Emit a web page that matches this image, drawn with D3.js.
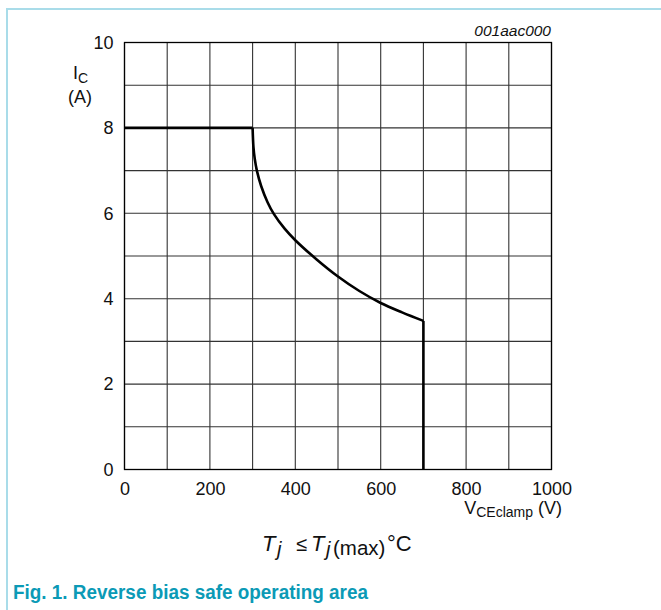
<!DOCTYPE html>
<html><head><meta charset="utf-8">
<script src="https://cdn.jsdelivr.net/npm/d3@7"></script>
<style>body{margin:0;background:#fff}svg{display:block}</style>
</head><body>
<script>
// Data
const xTicks = [0, 200, 400, 600, 800, 1000];
const yTicks = [0, 2, 4, 6, 8, 10];
const flatV = [0, 300];
const flatI = [8, 8];
const curveV = [300, 302, 305, 310, 320, 335, 350, 375, 400, 450, 500, 550, 600, 650, 700];
const curveI = [8.0, 7.55, 7.28, 7.0, 6.64, 6.26, 5.98, 5.64, 5.37, 4.92, 4.52, 4.18, 3.90, 3.68, 3.48];
const dropV = [700, 700];
const dropI = [3.48, 0];

const W = 661, H = 610;
const FONT = "'Liberation Sans', Arial, sans-serif";
const svg = d3.select("body").append("svg").attr("width", W).attr("height", H)
  .style("font-family", FONT);

// frame
svg.append("line").attr("x1", 7).attr("x2", W).attr("y1", 9).attr("y2", 9)
  .attr("stroke", "#a9dce9").attr("stroke-width", 2);
svg.append("line").attr("x1", 7).attr("x2", 7).attr("y1", 8).attr("y2", H)
  .attr("stroke", "#a9dce9").attr("stroke-width", 2);

const x = d3.scaleLinear().domain([0, 1000]).range([124.5, 551.5]);
const y = d3.scaleLinear().domain([0, 10]).range([469.5, 42.5]);

// grid
const g = svg.append("g");
g.selectAll(".vg").data(d3.range(0, 1001, 100)).enter().append("line")
  .attr("x1", d => x(d)).attr("x2", d => x(d)).attr("y1", y(0)).attr("y2", y(10))
  .attr("stroke", "#333").attr("stroke-width", 1.1);
g.selectAll(".hg").data(d3.range(0, 11, 1)).enter().append("line")
  .attr("x1", x(0)).attr("x2", x(1000)).attr("y1", d => y(d)).attr("y2", d => y(d))
  .attr("stroke", "#333").attr("stroke-width", 1.1);
g.append("rect").attr("x", x(0)).attr("y", y(10)).attr("width", x(1000) - x(0)).attr("height", y(0) - y(10))
  .attr("fill", "none").attr("stroke", "#000").attr("stroke-width", 1.3);

// axes tick labels
const xAxis = d3.axisBottom(x).tickValues(xTicks).tickSize(0).tickPadding(13).tickFormat(d3.format("d"));
const ax = svg.append("g").attr("transform", `translate(0,${y(0)})`).call(xAxis);
ax.select(".domain").remove();
ax.selectAll("text").attr("font-size", 18).attr("fill", "#111").attr("font-family", FONT);

const yAxis = d3.axisLeft(y).tickValues(yTicks).tickSize(0).tickPadding(11).tickFormat(d3.format("d"));
const ay = svg.append("g").attr("transform", `translate(${x(0)},0)`).call(yAxis);
ay.select(".domain").remove();
ay.selectAll("text").attr("font-size", 18).attr("fill", "#111").attr("font-family", FONT);

// curve
const line = d3.line().x(d => x(d[0])).y(d => y(d[1]));
const lineC = d3.line().x(d => x(d[0])).y(d => y(d[1])).curve(d3.curveCatmullRom.alpha(0.5));
svg.append("path").datum(flatV.map((v, i) => [v, flatI[i]])).attr("d", line)
  .attr("fill", "none").attr("stroke", "#000").attr("stroke-width", 2.6);
svg.append("path").datum(curveV.map((v, i) => [v, curveI[i]])).attr("d", lineC)
  .attr("fill", "none").attr("stroke", "#000").attr("stroke-width", 2.6).attr("stroke-linejoin", "round");
svg.append("path").datum(dropV.map((v, i) => [v, dropI[i]])).attr("d", line)
  .attr("fill", "none").attr("stroke", "#000").attr("stroke-width", 2.6);

// labels
const t1 = svg.append("text").attr("x", 73).attr("y", 79).attr("font-size", 18).attr("fill", "#111");
t1.append("tspan").text("I");
t1.append("tspan").attr("font-size", 14).attr("dy", 4).text("C");
svg.append("text").attr("x", 80).attr("y", 103).attr("text-anchor", "middle").attr("font-size", 18).attr("fill", "#111").text("(A)");

svg.append("text").attr("x", 551).attr("y", 36).attr("text-anchor", "end").attr("font-size", 15.5)
  .attr("font-style", "italic").attr("fill", "#111").text("001aac000");

const t2 = svg.append("text").attr("x", 562).attr("y", 514).attr("text-anchor", "end").attr("font-size", 18).attr("fill", "#111");
t2.append("tspan").text("V");
t2.append("tspan").attr("font-size", 14).attr("dy", 3).text("CEclamp");
t2.append("tspan").attr("dy", -3).text(" (V)");

// Tj <= Tj(max) °C
const tj = svg.append("g").attr("fill", "#111");
tj.append("text").attr("x", 262).attr("y", 551).attr("font-size", 22).attr("font-style", "italic").text("T");
tj.append("text").attr("x", 277).attr("y", 556).attr("font-size", 20).attr("font-style", "italic").text("j");
tj.append("text").attr("x", 296).attr("y", 551).attr("font-size", 20).text("≤");
tj.append("text").attr("x", 311).attr("y", 551).attr("font-size", 22).attr("font-style", "italic").text("T");
tj.append("text").attr("x", 326).attr("y", 556).attr("font-size", 20).attr("font-style", "italic").text("j");
tj.append("text").attr("x", 333).attr("y", 555).attr("font-size", 20.5).text("(max)");
tj.append("text").attr("x", 387).attr("y", 551).attr("font-size", 22).text("°C");

svg.append("text").attr("x", 13).attr("y", 599).attr("font-size", 20).attr("font-weight", "bold")
  .attr("textLength", 355).attr("lengthAdjust", "spacingAndGlyphs")
  .attr("fill", "#0b9ab6").text("Fig. 1. Reverse bias safe operating area");
</script>
</body></html>
